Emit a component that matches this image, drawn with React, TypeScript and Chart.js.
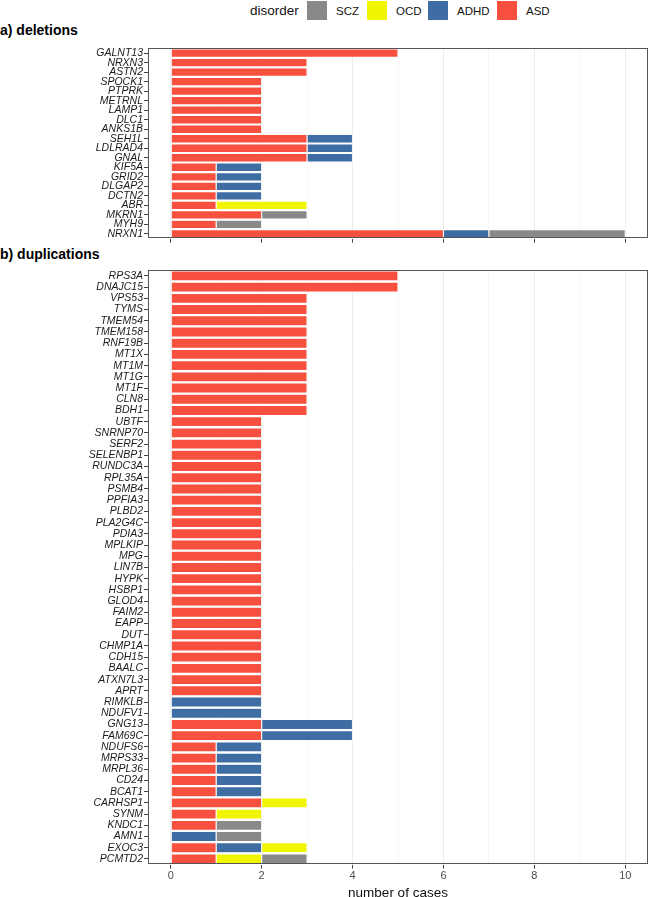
import { useEffect, useRef } from 'react';
import { Chart, registerables } from 'chart.js';

Chart.register(...registerables);

const FONT = '"Liberation Sans", Arial, Helvetica, sans-serif';

// stacking order left -> right
const disorders = ['ASD', 'ADHD', 'OCD', 'SCZ'];
const disorderColors = ['#F8503E', '#3D6DA3', '#F1F500', '#898989'];
// legend reads in reverse
const legendOrder = ['SCZ', 'OCD', 'ADHD', 'ASD'];

const caseTicks = [0, 1, 2, 3, 4, 5, 6, 7, 8, 9, 10];

// a) deletions
const delGenes = [
  'GALNT13', 'NRXN3', 'ASTN2', 'SPOCK1', 'PTPRK', 'METRNL', 'LAMP1', 'DLC1', 'ANKS1B', 'SEH1L',
  'LDLRAD4', 'GNAL', 'KIF5A', 'GRID2', 'DLGAP2', 'DCTN2', 'ABR', 'MKRN1', 'MYH9', 'NRXN1',
];
const delASD = [5, 3, 3, 2, 2, 2, 2, 2, 2, 3, 3, 3, 1, 1, 1, 1, 1, 2, 1, 6];
const delADHD = [0, 0, 0, 0, 0, 0, 0, 0, 0, 1, 1, 1, 1, 1, 1, 1, 0, 0, 0, 1];
const delOCD = [0, 0, 0, 0, 0, 0, 0, 0, 0, 0, 0, 0, 0, 0, 0, 0, 2, 0, 0, 0];
const delSCZ = [0, 0, 0, 0, 0, 0, 0, 0, 0, 0, 0, 0, 0, 0, 0, 0, 0, 1, 1, 3];

// b) duplications
const dupGenes = [
  'RPS3A', 'DNAJC15', 'VPS53', 'TYMS', 'TMEM54', 'TMEM158', 'RNF19B', 'MT1X', 'MT1M', 'MT1G',
  'MT1F', 'CLN8', 'BDH1', 'UBTF', 'SNRNP70', 'SERF2', 'SELENBP1', 'RUNDC3A', 'RPL35A', 'PSMB4',
  'PPFIA3', 'PLBD2', 'PLA2G4C', 'PDIA3', 'MPLKIP', 'MPG', 'LIN7B', 'HYPK', 'HSBP1', 'GLOD4',
  'FAIM2', 'EAPP', 'DUT', 'CHMP1A', 'CDH15', 'BAALC', 'ATXN7L3', 'APRT', 'RIMKLB', 'NDUFV1',
  'GNG13', 'FAM69C', 'NDUFS6', 'MRPS33', 'MRPL36', 'CD24', 'BCAT1', 'CARHSP1', 'SYNM', 'KNDC1',
  'AMN1', 'EXOC3', 'PCMTD2',
];
const dupASD = [
  5, 5, 3, 3, 3, 3, 3, 3, 3, 3,
  3, 3, 3, 2, 2, 2, 2, 2, 2, 2,
  2, 2, 2, 2, 2, 2, 2, 2, 2, 2,
  2, 2, 2, 2, 2, 2, 2, 2, 0, 0,
  2, 2, 1, 1, 1, 1, 1, 2, 1, 1,
  0, 1, 1,
];
const dupADHD = [
  0, 0, 0, 0, 0, 0, 0, 0, 0, 0,
  0, 0, 0, 0, 0, 0, 0, 0, 0, 0,
  0, 0, 0, 0, 0, 0, 0, 0, 0, 0,
  0, 0, 0, 0, 0, 0, 0, 0, 2, 2,
  2, 2, 1, 1, 1, 1, 1, 0, 0, 0,
  1, 1, 0,
];
const dupOCD = [
  0, 0, 0, 0, 0, 0, 0, 0, 0, 0,
  0, 0, 0, 0, 0, 0, 0, 0, 0, 0,
  0, 0, 0, 0, 0, 0, 0, 0, 0, 0,
  0, 0, 0, 0, 0, 0, 0, 0, 0, 0,
  0, 0, 0, 0, 0, 0, 0, 1, 1, 0,
  0, 1, 1,
];
const dupSCZ = [
  0, 0, 0, 0, 0, 0, 0, 0, 0, 0,
  0, 0, 0, 0, 0, 0, 0, 0, 0, 0,
  0, 0, 0, 0, 0, 0, 0, 0, 0, 0,
  0, 0, 0, 0, 0, 0, 0, 0, 0, 0,
  0, 0, 0, 0, 0, 0, 0, 0, 0, 1,
  1, 0, 1,
];

// draws the ggplot-style panel border round the chart area
const panelBorder = {
  id: 'panelBorder',
  afterDatasetsDraw(chart: Chart) {
    const { ctx, chartArea } = chart;
    ctx.save();
    ctx.strokeStyle = '#555555';
    ctx.lineWidth = 1;
    ctx.strokeRect(
      Math.round(chartArea.left) + 0.5,
      Math.round(chartArea.top) + 0.5,
      Math.round(chartArea.right - chartArea.left) - 1,
      Math.round(chartArea.bottom - chartArea.top) - 1
    );
    ctx.restore();
  },
};

type PanelProps = {
  genes: string[];
  series: number[][];
  top: number;
  height: number;
  showAxis: boolean;
};

function Panel({ genes, series, top, height, showAxis }: PanelProps) {
  const chartRef = useRef<HTMLCanvasElement>(null);
  const chartInstance = useRef<Chart | null>(null);

  useEffect(() => {
    if (!chartRef.current) return;
    if (chartInstance.current) chartInstance.current.destroy();
    const ctx = chartRef.current.getContext('2d');
    if (!ctx) return;

    chartInstance.current = new Chart(ctx, {
      type: 'bar',
      data: {
        labels: genes,
        datasets: disorders.map((d, i) => ({
          label: d,
          data: series[i],
          backgroundColor: disorderColors[i],
          borderColor: '#ffffff',
          borderWidth: 0.6,
          borderSkipped: false,
          categoryPercentage: 0.9,
          barPercentage: 1,
        })),
      },
      options: {
        indexAxis: 'y',
        animation: false,
        responsive: true,
        maintainAspectRatio: false,
        layout: { padding: { top: 1, right: 1, left: 0, bottom: 0 } },
        plugins: {
          legend: { display: false },
          tooltip: { enabled: false },
        },
        scales: {
          x: {
            type: 'linear',
            stacked: true,
            min: -0.5,
            max: 10.5,
            afterBuildTicks: (scale: any) => {
              scale.ticks = caseTicks.map((v) => ({ value: v }));
            },
            border: { display: false },
            grid: {
              color: (c: any) => (c.tick && c.tick.value % 2 === 0 ? '#EBEBEB' : '#F2F2F2'),
              lineWidth: (c: any) => (c.tick && c.tick.value % 2 === 0 ? 1 : 0.7),
              tickColor: (c: any) => (c.tick && c.tick.value % 2 === 0 ? '#444444' : 'rgba(0,0,0,0)'),
              tickLength: 4,
              tickWidth: 1,
            },
            ticks: {
              display: showAxis,
              padding: 1,
              color: '#4D4D4D',
              font: { family: FONT, size: 11 },
              maxRotation: 0,
              autoSkip: false,
              callback: (v: any) => (Number(v) % 2 === 0 ? String(v) : ''),
            },
            title: {
              display: showAxis,
              text: 'number of cases',
              color: '#111111',
              font: { family: FONT, size: 13.5 },
              padding: { top: 1, bottom: 0 },
            },
          },
          y: {
            stacked: true,
            offset: true,
            afterFit: (scale: any) => {
              scale.width = 148;
            },
            border: { display: false },
            grid: {
              offset: false,
              drawOnChartArea: false,
              drawTicks: true,
              tickLength: 4,
              tickColor: '#444444',
            },
            ticks: {
              autoSkip: false,
              padding: 1,
              color: '#1A1A1A',
              font: { family: FONT, size: 10.5, style: 'italic' },
            },
          },
        },
      },
      plugins: [panelBorder],
    });

    return () => {
      if (chartInstance.current) {
        chartInstance.current.destroy();
        chartInstance.current = null;
      }
    };
  }, [genes, series, showAxis]);

  return (
    <div style={{ position: 'absolute', left: 0, top, width: 649, height }}>
      <canvas ref={chartRef}></canvas>
    </div>
  );
}

const textStyle = {
  position: 'absolute' as const,
  fontFamily: FONT,
  whiteSpace: 'nowrap' as const,
};

const legendBoxLeft = [307, 367, 428, 497];

export default function App() {
  return (
    <div
      style={{
        position: 'fixed',
        left: 0,
        top: 0,
        width: 649,
        height: 897,
        overflow: 'hidden',
        background: '#ffffff',
      }}
    >
      {/* legend */}
      <div style={{ ...textStyle, left: 250, top: 3, fontSize: 13.5, lineHeight: '16px', color: '#111' }}>
        disorder
      </div>
      {legendOrder.map((name, i) => (
        <div key={name}>
          <div
            style={{
              position: 'absolute',
              left: legendBoxLeft[i],
              top: 1,
              width: 20,
              height: 19,
              background: disorderColors[disorders.indexOf(name)],
            }}
          />
          <div
            style={{
              ...textStyle,
              left: legendBoxLeft[i] + 29,
              top: 3,
              fontSize: 11.5,
              lineHeight: '16px',
              color: '#111',
            }}
          >
            {name}
          </div>
        </div>
      ))}

      <div style={{ ...textStyle, left: 0, top: 22, fontSize: 14, fontWeight: 'bold', lineHeight: '16px', color: '#000' }}>
        a) deletions
      </div>
      <Panel genes={delGenes} series={[delASD, delADHD, delOCD, delSCZ]} top={41} height={205} showAxis={false} />

      <div style={{ ...textStyle, left: 0, top: 246, fontSize: 14, fontWeight: 'bold', lineHeight: '16px', color: '#000' }}>
        b) duplications
      </div>
      <Panel genes={dupGenes} series={[dupASD, dupADHD, dupOCD, dupSCZ]} top={263} height={638} showAxis={true} />
    </div>
  );
}
